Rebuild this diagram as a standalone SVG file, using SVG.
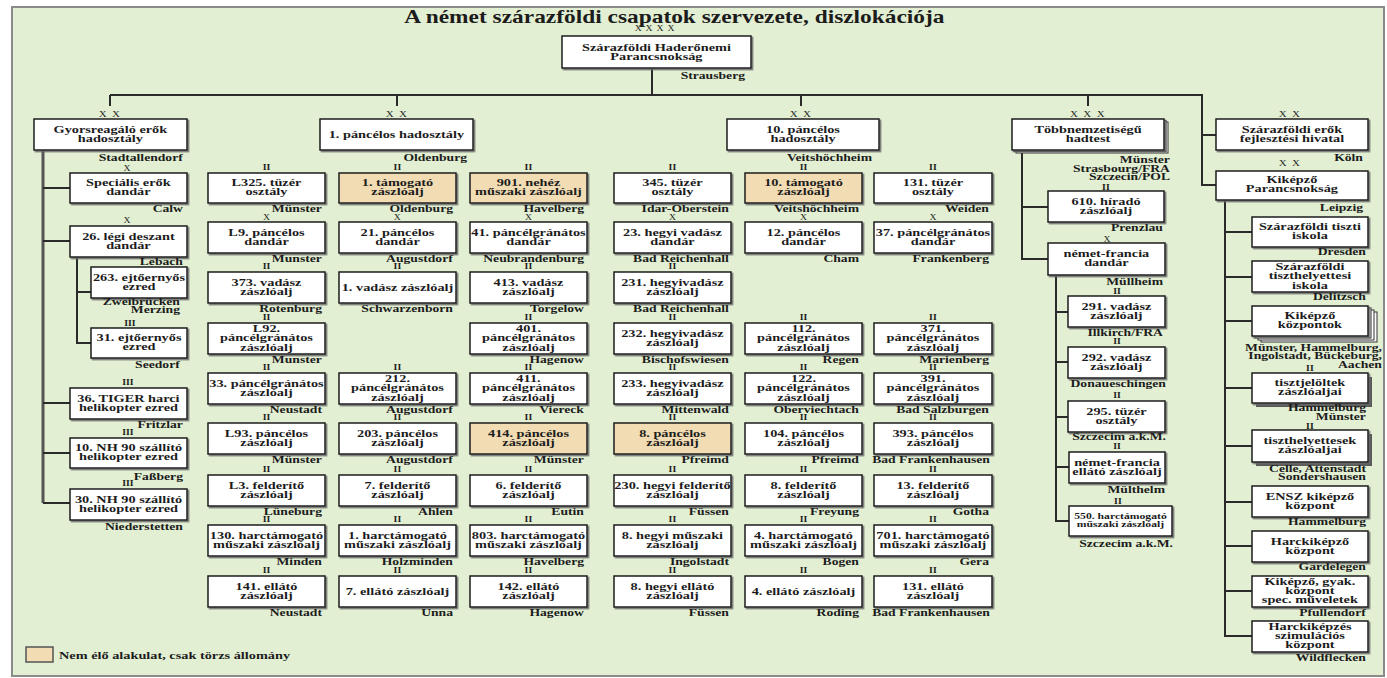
<svg xmlns="http://www.w3.org/2000/svg" width="1387" height="678" viewBox="0 0 1387 678">
<defs>
<filter id="sh" x="-5%" y="-10%" width="115%" height="135%"><feDropShadow dx="1.5" dy="1.5" stdDeviation="0.4" flood-color="#666" flood-opacity="0.9"/></filter>
</defs>
<style>
.t{font-family:"Liberation Serif","Times New Roman",serif;font-weight:700;font-size:11px;fill:#1c1c1c;text-anchor:middle;transform-box:fill-box;transform-origin:50% 50%;transform:scaleX(1.3)}
.r{text-anchor:end;transform-origin:100% 50%;font-size:10.5px}
.s{text-anchor:start;transform-origin:0 50%}
.m{font-size:7.5px}
.x{font-weight:400;font-size:7.5px}
.m2{font-weight:400;font-size:8.5px;letter-spacing:1px}
.ti{font-size:18px}
.sm{font-size:9px}
.bx{fill:#fff;stroke:#1e1e1e;stroke-width:1.5;filter:url(#sh)}
.tan{fill:#f1dcb3}
.bk{fill:#fff;stroke:#333;stroke-width:1}
.hs{fill:#5a5a5a}
.c{stroke:#2a2a2a;stroke-width:2;fill:none}
.cg{stroke:#555;stroke-width:3;fill:none}
</style>
<rect width="1387" height="678" fill="#fff"/>
<rect x="12" y="7" width="1372" height="669" fill="#e2efd3" stroke="#8a8a8a" stroke-width="2"/>
<text class="t ti" x="674.5" y="23">A német szárazföldi csapatok szervezete, diszlokációja</text>

<g id="connectors">
<path class="c" d="M652 68V95M110 95H1202V185H1216M1202 135H1216M110 95V106M397 95V106M801 95V106M1088 95V106"/>
<path class="cg" d="M43 150V503"/>
<path class="c" d="M43 188H70M43 241H70M43 403H70M43 453H70M43 503H70M77 257V343H91M77 292H91"/>
<path class="c" d="M1022 152V259H1048M1022 207H1048M1056 275V521H1069M1056 312H1068M1056 362H1068M1056 417H1068M1056 467H1069"/>
<path class="c" d="M1225 200V636H1252M1225 232H1252M1225 277H1252M1225 321H1252M1225 388H1252M1225 446H1252M1225 502H1252M1225 546H1252M1225 591H1252"/>
</g>

<g id="n-top"><text class="t x" x="656.5" y="31.5" style="letter-spacing:3px">XXXX</text><rect class="bx" x="562" y="36" width="189" height="32"/><text class="t" x="656.5" y="51.5">Szárazföldi Haderőnemi<tspan x="656.5" dy="9">Parancsnokság</tspan></text><text class="t r" x="745" y="79">Strausberg</text></g>

<g id="n-gyors"><text class="t m2" x="110" y="117">X X</text><rect class="bx" x="34" y="119" width="153" height="31"/><text class="t" x="110.5" y="133.5">Gyorsreagáló erők<tspan x="110.5" dy="9">hadosztály</tspan></text><text class="t r" x="183" y="161">Stadtallendorf</text></g>
<g id="n-1pd"><text class="t m2" x="397" y="117">X X</text><rect class="bx" x="320" y="119" width="153" height="31"/><text class="t" x="396.5" y="138.5">1. páncélos hadosztály</text><text class="t r" x="467" y="161">Oldenburg</text></g>
<g id="n-10pd"><text class="t m2" x="801" y="117">X X</text><rect class="bx" x="727" y="119" width="152" height="31"/><text class="t" x="803" y="133.5">10. páncélos<tspan x="803" dy="9">hadosztály</tspan></text><text class="t r" x="872" y="161">Veitshöchheim</text></g>
<g id="n-tobb"><text class="t m2" x="1088" y="117">X X X</text><rect class="bk" x="1016" y="122" width="152" height="31"/><rect class="bk" x="1014" y="120.5" width="152" height="31"/><rect class="bx" x="1012" y="119" width="152" height="31"/><text class="t" x="1088" y="133.5">Többnemzetiségű<tspan x="1088" dy="9">hadtest</tspan></text><text class="t r" x="1170" y="163.5">Münster</text><text class="t r" x="1170" y="172">Strasbourg/FRA</text><text class="t r" x="1170" y="180.5">Szczecin/POL</text></g>
<g id="n-fejl"><text class="t m2" x="1290" y="117">X X</text><rect class="bx" x="1216" y="119" width="152" height="31"/><text class="t" x="1292" y="133.5">Szárazföldi erők<tspan x="1292" dy="9">fejlesztési hivatal</tspan></text><text class="t r" x="1363" y="161">Köln</text></g>
<g id="n-kikp"><text class="t m2" x="1290" y="166">X X</text><rect class="bx" x="1216" y="171" width="152" height="29"/><text class="t" x="1292" y="183.5">Kiképző<tspan x="1292" dy="9">Parancsnokság</tspan></text><text class="t r" x="1363" y="211.5">Leipzig</text></g>

<g id="n-spec"><text class="t x" x="127" y="171.5">X</text><rect class="bx" x="70" y="173" width="117" height="30"/><text class="t" x="128.5" y="186.5">Speciális erők<tspan x="128.5" dy="9">dandár</tspan></text><text class="t r" x="183" y="212.5">Calw</text></g>
<g id="n-26"><text class="t x" x="127" y="223.5">X</text><rect class="bx" x="70" y="226" width="117" height="31"/><text class="t" x="128.5" y="240">26. légi deszant<tspan x="128.5" dy="9">dandár</tspan></text><text class="t r" x="183" y="265.5">Lebach</text></g>
<g id="n-263"><rect class="bx" x="91" y="267" width="96" height="31"/><text class="t" x="139" y="281">263. ejtőernyős<tspan x="139" dy="9">ezred</tspan></text><text class="t r" x="180" y="305">Zweibrücken</text><text class="t r" x="180" y="313.5">Merzing</text></g>
<g id="n-31"><text class="t m" x="130" y="326.5">III</text><rect class="bx" x="91" y="328" width="96" height="30"/><text class="t" x="139" y="341.5">31. ejtőernyős<tspan x="139" dy="9">ezred</tspan></text><text class="t r" x="180" y="368">Seedorf</text></g>
<g id="n-36"><text class="t m" x="128" y="385.5">III</text><rect class="bx" x="70" y="388" width="117" height="31"/><text class="t" x="128.5" y="402">36. TIGER harci<tspan x="128.5" dy="9">helikopter ezred</tspan></text><text class="t r" x="183" y="428.5">Fritzlar</text></g>
<g id="n-10nh"><text class="t m" x="128" y="435.5">III</text><rect class="bx" x="70" y="438" width="117" height="30"/><text class="t" x="128.5" y="451.5">10. NH 90 szállító<tspan x="128.5" dy="9">helikopter ezred</tspan></text><text class="t r" x="183" y="480">Faßberg</text></g>
<g id="n-30nh"><text class="t m" x="128" y="486">III</text><rect class="bx" x="70" y="489" width="117" height="31"/><text class="t" x="128.5" y="503">30. NH 90 szállító<tspan x="128.5" dy="9">helikopter ezred</tspan></text><text class="t r" x="183" y="530">Niederstetten</text></g>

<!-- Row 1 -->
<g id="n-r1a"><text class="t m" x="266.5" y="170.5">II</text><rect class="bx" x="208" y="173" width="117" height="30"/><text class="t" x="266.5" y="186.5">L325. tüzér<tspan x="266.5" dy="9">osztály</tspan></text><text class="t r" x="322" y="212.5">Münster</text></g>
<g id="n-r1b"><text class="t m" x="397.5" y="170.5">II</text><rect class="bx tan" x="339" y="173" width="117" height="30"/><text class="t" x="397.5" y="186.5">1. támogató<tspan x="397.5" dy="9">zászlóalj</tspan></text><text class="t r" x="453" y="212.5">Oldenburg</text></g>
<g id="n-r1c"><text class="t m" x="528.5" y="170.5">II</text><rect class="bx tan" x="470" y="173" width="117" height="30"/><text class="t" x="528.5" y="186.5">901. nehéz<tspan x="528.5" dy="9">műszaki zászlóalj</tspan></text><text class="t r" x="584" y="212.5">Havelberg</text></g>
<g id="n-r1d"><text class="t m" x="672.5" y="170.5">II</text><rect class="bx" x="614" y="173" width="117" height="30"/><text class="t" x="672.5" y="186.5">345. tüzér<tspan x="672.5" dy="9">osztály</tspan></text><text class="t r" x="729" y="212.5">Idar-Oberstein</text></g>
<g id="n-r1e"><text class="t m" x="803.5" y="170.5">II</text><rect class="bx tan" x="745" y="173" width="117" height="30"/><text class="t" x="803.5" y="186.5">10. támogató<tspan x="803.5" dy="9">zászlóalj</tspan></text><text class="t r" x="859" y="212.5">Veitshöchheim</text></g>
<g id="n-r1f"><text class="t m" x="933" y="170.5">II</text><rect class="bx" x="874" y="173" width="118" height="30"/><text class="t" x="933" y="186.5">131. tüzér<tspan x="933" dy="9">osztály</tspan></text><text class="t r" x="989" y="212.5">Weiden</text></g>

<!-- Row 2 -->
<g id="n-r2a"><text class="t x" x="266.5" y="220.5">X</text><rect class="bx" x="208" y="222" width="117" height="31"/><text class="t" x="266.5" y="236">L9. páncélos<tspan x="266.5" dy="9">dandár</tspan></text><text class="t r" x="322" y="262.5">Munster</text></g>
<g id="n-r2b"><text class="t x" x="397.5" y="220.5">X</text><rect class="bx" x="339" y="222" width="117" height="31"/><text class="t" x="397.5" y="236">21. páncélos<tspan x="397.5" dy="9">dandár</tspan></text><text class="t r" x="453" y="262.5">Augustdorf</text></g>
<g id="n-r2c"><text class="t x" x="528.5" y="220.5">X</text><rect class="bx" x="470" y="222" width="117" height="31"/><text class="t" x="528.5" y="236">41. páncélgránátos<tspan x="528.5" dy="9">dandár</tspan></text><text class="t r" x="584" y="262.5">Neubrandenburg</text></g>
<g id="n-r2d"><text class="t x" x="672.5" y="220.5">X</text><rect class="bx" x="614" y="222" width="117" height="31"/><text class="t" x="672.5" y="236">23. hegyi vadász<tspan x="672.5" dy="9">dandár</tspan></text><text class="t r" x="729" y="262.5">Bad Reichenhall</text></g>
<g id="n-r2e"><text class="t x" x="803.5" y="220.5">X</text><rect class="bx" x="745" y="222" width="117" height="31"/><text class="t" x="803.5" y="236">12. páncélos<tspan x="803.5" dy="9">dandár</tspan></text><text class="t r" x="859" y="262.5">Cham</text></g>
<g id="n-r2f"><text class="t x" x="933" y="220.5">X</text><rect class="bx" x="874" y="222" width="118" height="31"/><text class="t" x="933" y="236">37. páncélgránátos<tspan x="933" dy="9">dandár</tspan></text><text class="t r" x="989" y="262.5">Frankenberg</text></g>

<!-- Row 3 -->
<g id="n-r3a"><text class="t m" x="266.5" y="269.5">II</text><rect class="bx" x="208" y="272" width="117" height="31"/><text class="t" x="266.5" y="286">373. vadász<tspan x="266.5" dy="9">zászlóalj</tspan></text><text class="t r" x="322" y="312.5">Rotenburg</text></g>
<g id="n-r3b"><text class="t m" x="397.5" y="269.5">II</text><rect class="bx" x="339" y="272" width="117" height="31"/><text class="t" x="397.5" y="291.5">1. vadász zászlóalj</text><text class="t r" x="453" y="312.5">Schwarzenborn</text></g>
<g id="n-r3c"><text class="t m" x="528.5" y="269.5">II</text><rect class="bx" x="470" y="272" width="117" height="31"/><text class="t" x="528.5" y="286">413. vadász<tspan x="528.5" dy="9">zászlóalj</tspan></text><text class="t r" x="584" y="312.5">Torgelow</text></g>
<g id="n-r3d"><text class="t m" x="672.5" y="269.5">II</text><rect class="bx" x="614" y="272" width="117" height="31"/><text class="t" x="672.5" y="286">231. hegyivadász<tspan x="672.5" dy="9">zászlóalj</tspan></text><text class="t r" x="729" y="312.5">Bad Reichenhall</text></g>

<!-- Row 4 -->
<g id="n-r4a"><text class="t m" x="266.5" y="320.5">II</text><rect class="bx" x="208" y="323" width="117" height="31"/><text class="t" x="266.5" y="332">L92.<tspan x="266.5" dy="9.5">páncélgránátos</tspan><tspan x="266.5" dy="9.5">zászlóalj</tspan></text><text class="t r" x="322" y="363.5">Munster</text></g>
<g id="n-r4c"><text class="t m" x="528.5" y="320.5">II</text><rect class="bx" x="470" y="323" width="117" height="31"/><text class="t" x="528.5" y="332">401.<tspan x="528.5" dy="9.5">páncélgránátos</tspan><tspan x="528.5" dy="9.5">zászlóalj</tspan></text><text class="t r" x="584" y="363.5">Hagenow</text></g>
<g id="n-r4d"><text class="t m" x="672.5" y="320.5">II</text><rect class="bx" x="614" y="323" width="117" height="31"/><text class="t" x="672.5" y="337">232. hegyivadász<tspan x="672.5" dy="9">zászlóalj</tspan></text><text class="t r" x="729" y="363.5">Bischofswiesen</text></g>
<g id="n-r4e"><text class="t m" x="803.5" y="320.5">II</text><rect class="bx" x="745" y="323" width="117" height="31"/><text class="t" x="803.5" y="332">112.<tspan x="803.5" dy="9.5">páncélgránátos</tspan><tspan x="803.5" dy="9.5">zászlóalj</tspan></text><text class="t r" x="859" y="363.5">Regen</text></g>
<g id="n-r4f"><text class="t m" x="933" y="320.5">II</text><rect class="bx" x="874" y="323" width="118" height="31"/><text class="t" x="933" y="332">371.<tspan x="933" dy="9.5">páncélgránátos</tspan><tspan x="933" dy="9.5">zászlóalj</tspan></text><text class="t r" x="989" y="363.5">Marienberg</text></g>

<!-- Row 5 -->
<g id="n-r5a"><text class="t m" x="266.5" y="370.5">II</text><rect class="bx" x="208" y="373" width="117" height="31"/><text class="t" x="266.5" y="387">33. páncélgránátos<tspan x="266.5" dy="9">zászlóalj</tspan></text><text class="t r" x="322" y="413.5">Neustadt</text></g>
<g id="n-r5b"><text class="t m" x="397.5" y="370.5">II</text><rect class="bx" x="339" y="373" width="117" height="31"/><text class="t" x="397.5" y="382">212.<tspan x="397.5" dy="9.5">páncélgránátos</tspan><tspan x="397.5" dy="9.5">zászlóalj</tspan></text><text class="t r" x="453" y="413.5">Augustdorf</text></g>
<g id="n-r5c"><text class="t m" x="528.5" y="370.5">II</text><rect class="bx" x="470" y="373" width="117" height="31"/><text class="t" x="528.5" y="382">411.<tspan x="528.5" dy="9.5">páncélgránátos</tspan><tspan x="528.5" dy="9.5">zászlóalj</tspan></text><text class="t r" x="584" y="413.5">Viereck</text></g>
<g id="n-r5d"><text class="t m" x="672.5" y="370.5">II</text><rect class="bx" x="614" y="373" width="117" height="31"/><text class="t" x="672.5" y="387">233. hegyivadász<tspan x="672.5" dy="9">zászlóalj</tspan></text><text class="t r" x="729" y="413.5">Mittenwald</text></g>
<g id="n-r5e"><text class="t m" x="803.5" y="370.5">II</text><rect class="bx" x="745" y="373" width="117" height="31"/><text class="t" x="803.5" y="382">122.<tspan x="803.5" dy="9.5">páncélgránátos</tspan><tspan x="803.5" dy="9.5">zászlóalj</tspan></text><text class="t r" x="859" y="413.5">Oberviechtach</text></g>
<g id="n-r5f"><text class="t m" x="933" y="370.5">II</text><rect class="bx" x="874" y="373" width="118" height="31"/><text class="t" x="933" y="382">391.<tspan x="933" dy="9.5">páncélgránátos</tspan><tspan x="933" dy="9.5">zászlóalj</tspan></text><text class="t r" x="989" y="413.5">Bad Salzburgen</text></g>

<!-- Row 6 -->
<g id="n-r6a"><text class="t m" x="266.5" y="420.5">II</text><rect class="bx" x="208" y="423" width="117" height="31"/><text class="t" x="266.5" y="437">L93. páncélos<tspan x="266.5" dy="9">zászlóalj</tspan></text><text class="t r" x="322" y="463.5">Münster</text></g>
<g id="n-r6b"><text class="t m" x="397.5" y="420.5">II</text><rect class="bx" x="339" y="423" width="117" height="31"/><text class="t" x="397.5" y="437">203. páncélos<tspan x="397.5" dy="9">zászlóalj</tspan></text><text class="t r" x="453" y="463.5">Augustdorf</text></g>
<g id="n-r6c"><text class="t m" x="528.5" y="420.5">II</text><rect class="bx tan" x="470" y="423" width="117" height="31"/><text class="t" x="528.5" y="437">414. páncélos<tspan x="528.5" dy="9">zászlóalj</tspan></text><text class="t r" x="584" y="463.5">Münster</text></g>
<g id="n-r6d"><text class="t m" x="672.5" y="420.5">II</text><rect class="bx tan" x="614" y="423" width="117" height="31"/><text class="t" x="672.5" y="437">8. páncélos<tspan x="672.5" dy="9">zászlóalj</tspan></text><text class="t r" x="729" y="463.5">Pfreimd</text></g>
<g id="n-r6e"><text class="t m" x="803.5" y="420.5">II</text><rect class="bx" x="745" y="423" width="117" height="31"/><text class="t" x="803.5" y="437">104. páncélos<tspan x="803.5" dy="9">zászlóalj</tspan></text><text class="t r" x="859" y="463.5">Pfreimd</text></g>
<g id="n-r6f"><text class="t m" x="933" y="420.5">II</text><rect class="bx" x="874" y="423" width="118" height="31"/><text class="t" x="933" y="437">393. páncélos<tspan x="933" dy="9">zászlóalj</tspan></text><text class="t r" x="990" y="463.5">Bad Frankenhausen</text></g>

<!-- Row 7 -->
<g id="n-r7a"><text class="t m" x="266.5" y="472.5">II</text><rect class="bx" x="208" y="475" width="117" height="31"/><text class="t" x="266.5" y="489">L3. felderítő<tspan x="266.5" dy="9">zászlóalj</tspan></text><text class="t r" x="322" y="515.5">Lüneburg</text></g>
<g id="n-r7b"><text class="t m" x="397.5" y="472.5">II</text><rect class="bx" x="339" y="475" width="117" height="31"/><text class="t" x="397.5" y="489">7. felderítő<tspan x="397.5" dy="9">zászlóalj</tspan></text><text class="t r" x="453" y="515.5">Ahlen</text></g>
<g id="n-r7c"><text class="t m" x="528.5" y="472.5">II</text><rect class="bx" x="470" y="475" width="117" height="31"/><text class="t" x="528.5" y="489">6. felderítő<tspan x="528.5" dy="9">zászlóalj</tspan></text><text class="t r" x="584" y="515.5">Eutin</text></g>
<g id="n-r7d"><text class="t m" x="672.5" y="472.5">II</text><rect class="bx" x="614" y="475" width="117" height="31"/><text class="t" x="672.5" y="489">230. hegyi felderítő<tspan x="672.5" dy="9">zászlóalj</tspan></text><text class="t r" x="729" y="515.5">Füssen</text></g>
<g id="n-r7e"><text class="t m" x="803.5" y="472.5">II</text><rect class="bx" x="745" y="475" width="117" height="31"/><text class="t" x="803.5" y="489">8. felderítő<tspan x="803.5" dy="9">zászlóalj</tspan></text><text class="t r" x="859" y="515.5">Freyung</text></g>
<g id="n-r7f"><text class="t m" x="933" y="472.5">II</text><rect class="bx" x="874" y="475" width="118" height="31"/><text class="t" x="933" y="489">13. felderítő<tspan x="933" dy="9">zászlóalj</tspan></text><text class="t r" x="989" y="515.5">Gotha</text></g>

<!-- Row 8 -->
<g id="n-r8a"><text class="t m" x="266.5" y="522.5">II</text><rect class="bx" x="208" y="525" width="117" height="31"/><text class="t" x="266.5" y="539">130. harctámogató<tspan x="266.5" dy="9">műszaki zászlóalj</tspan></text><text class="t r" x="322" y="565.5">Minden</text></g>
<g id="n-r8b"><text class="t m" x="397.5" y="522.5">II</text><rect class="bx" x="339" y="525" width="117" height="31"/><text class="t" x="397.5" y="539">1. harctámogató<tspan x="397.5" dy="9">műszaki zászlóalj</tspan></text><text class="t r" x="453" y="565.5">Holzminden</text></g>
<g id="n-r8c"><text class="t m" x="528.5" y="522.5">II</text><rect class="bx" x="470" y="525" width="117" height="31"/><text class="t" x="528.5" y="539">803. harctámogató<tspan x="528.5" dy="9">műszaki zászlóalj</tspan></text><text class="t r" x="584" y="565.5">Havelberg</text></g>
<g id="n-r8d"><text class="t m" x="672.5" y="522.5">II</text><rect class="bx" x="614" y="525" width="117" height="31"/><text class="t" x="672.5" y="539">8. hegyi műszaki<tspan x="672.5" dy="9">zászlóalj</tspan></text><text class="t r" x="729" y="565.5">Ingolstadt</text></g>
<g id="n-r8e"><text class="t m" x="803.5" y="522.5">II</text><rect class="bx" x="745" y="525" width="117" height="31"/><text class="t" x="803.5" y="539">4. harctámogató<tspan x="803.5" dy="9">műszaki zászlóalj</tspan></text><text class="t r" x="859" y="565.5">Bogen</text></g>
<g id="n-r8f"><text class="t m" x="933" y="522.5">II</text><rect class="bx" x="874" y="525" width="118" height="31"/><text class="t" x="933" y="539">701. harctámogató<tspan x="933" dy="9">műszaki zászlóalj</tspan></text><text class="t r" x="989" y="565.5">Gera</text></g>

<!-- Row 9 -->
<g id="n-r9a"><text class="t m" x="266.5" y="573.5">II</text><rect class="bx" x="208" y="576" width="117" height="31"/><text class="t" x="266.5" y="590">141. ellátó<tspan x="266.5" dy="9">zászlóalj</tspan></text><text class="t r" x="322" y="616.5">Neustadt</text></g>
<g id="n-r9b"><text class="t m" x="397.5" y="573.5">II</text><rect class="bx" x="339" y="576" width="117" height="31"/><text class="t" x="397.5" y="595.5">7. ellátó zászlóalj</text><text class="t r" x="453" y="616.5">Unna</text></g>
<g id="n-r9c"><text class="t m" x="528.5" y="573.5">II</text><rect class="bx" x="470" y="576" width="117" height="31"/><text class="t" x="528.5" y="590">142. ellátó<tspan x="528.5" dy="9">zászlóalj</tspan></text><text class="t r" x="584" y="616.5">Hagenow</text></g>
<g id="n-r9d"><text class="t m" x="672.5" y="573.5">II</text><rect class="bx" x="614" y="576" width="117" height="31"/><text class="t" x="672.5" y="590">8. hegyi ellátó<tspan x="672.5" dy="9">zászlóalj</tspan></text><text class="t r" x="729" y="616.5">Füssen</text></g>
<g id="n-r9e"><text class="t m" x="803.5" y="573.5">II</text><rect class="bx" x="745" y="576" width="117" height="31"/><text class="t" x="803.5" y="595.5">4. ellátó zászlóalj</text><text class="t r" x="859" y="616.5">Roding</text></g>
<g id="n-r9f"><text class="t m" x="933" y="573.5">II</text><rect class="bx" x="874" y="576" width="118" height="31"/><text class="t" x="933" y="590">131. ellátó<tspan x="933" dy="9">zászlóalj</tspan></text><text class="t r" x="990" y="616.5">Bad Frankenhausen</text></g>

<!-- Többnemzetiségű subunits -->
<g id="n-610"><text class="t m" x="1106" y="190">II</text><rect class="bx" x="1048" y="191" width="116" height="31"/><text class="t" x="1106" y="205">610. híradó<tspan x="1106" dy="9">zászlóalj</tspan></text><text class="t r" x="1163" y="231">Prenzlau</text></g>
<g id="n-nfd"><text class="t x" x="1107" y="242.5">X</text><rect class="bx" x="1048" y="243" width="117" height="32"/><text class="t" x="1106.5" y="257.5">német-francia<tspan x="1106.5" dy="9">dandár</tspan></text><text class="t r" x="1163" y="285.5">Müllheim</text></g>
<g id="n-291"><text class="t m" x="1117" y="294.5">II</text><rect class="bx" x="1068" y="296" width="97" height="31"/><text class="t" x="1116.5" y="310">291. vadász<tspan x="1116.5" dy="9">zászlóalj</tspan></text><text class="t r" x="1163" y="336.5">Illkirch/FRA</text></g>
<g id="n-292"><text class="t m" x="1117" y="344.5">II</text><rect class="bx" x="1068" y="347" width="97" height="31"/><text class="t" x="1116.5" y="361">292. vadász<tspan x="1116.5" dy="9">zászlóalj</tspan></text><text class="t r" x="1166" y="387.5">Donaueschingen</text></g>
<g id="n-295"><text class="t m" x="1117" y="398.5">II</text><rect class="bx" x="1068" y="401" width="97" height="31"/><text class="t" x="1116.5" y="415">295. tüzér<tspan x="1116.5" dy="9">osztály</tspan></text><text class="t r" x="1166" y="440.5">Szczecim a.k.M.</text></g>
<g id="n-nfe"><text class="t m" x="1117" y="449">II</text><rect class="bx" x="1069" y="452" width="96" height="31"/><text class="t" x="1117" y="466">német-francia<tspan x="1117" dy="9">ellátó zászlóalj</tspan></text><text class="t r" x="1165" y="493.5">Mülthelm</text></g>
<g id="n-550"><text class="t m" x="1118" y="504.5">II</text><rect class="bx" x="1069" y="506" width="103" height="30"/><text class="t sm" x="1120.5" y="519">550. harctámogató<tspan x="1120.5" dy="8.5">műszaki zászlóalj</tspan></text><text class="t r" x="1173" y="547.5">Szczecim a.k.M.</text></g>

<!-- Kiképző subunits -->
<g id="n-tiszti"><rect class="bx" x="1252" y="217" width="116" height="30"/><text class="t" x="1310" y="230.5">Szárazföldi tiszti<tspan x="1310" dy="9">iskola</tspan></text><text class="t r" x="1366" y="255">Dresden</text></g>
<g id="n-tiszth"><rect class="bx" x="1252" y="261" width="116" height="31"/><text class="t" x="1310" y="270">Szárazföldi<tspan x="1310" dy="9.5">tiszthelyettesi</tspan><tspan x="1310" dy="9.5">iskola</tspan></text><text class="t r" x="1366" y="300.5">Delitzsch</text></g>
<g id="n-kkozp"><rect class="bk" x="1261" y="312" width="116" height="30"/><rect class="bk" x="1258" y="310" width="116" height="30"/><rect class="bk" x="1255" y="308" width="116" height="30"/><rect class="bx" x="1252" y="306" width="116" height="30"/><text class="t" x="1310" y="319.5">Kiképző<tspan x="1310" dy="9">központok</tspan></text><text class="t r" x="1382" y="351">Münster, Hammelburg,</text><text class="t r" x="1382" y="359.5">Ingolstadt, Bückeburg,</text><text class="t r" x="1382" y="368">Aachen</text></g>
<g id="n-tjel"><text class="t m" x="1310" y="371.5">II</text><rect class="hs" x="1256" y="377" width="116" height="30"/><rect class="bx" x="1252" y="373" width="116" height="30"/><text class="t" x="1310" y="386.5">tisztjelöltek<tspan x="1310" dy="9">zászlóaljai</tspan></text><text class="t r" x="1366" y="411.5">Hammelburg</text><text class="t r" x="1366" y="420">Münster</text></g>
<g id="n-thely"><text class="t m" x="1310" y="429.5">II</text><rect class="hs" x="1256" y="434" width="116" height="32"/><rect class="bx" x="1252" y="430" width="116" height="32"/><text class="t" x="1310" y="444.5">tiszthelyettesek<tspan x="1310" dy="9">zászlóaljai</tspan></text><text class="t r" x="1366" y="472">Celle, Attenstadt</text><text class="t r" x="1366" y="480.5">Sondershausen</text></g>
<g id="n-ensz"><rect class="bx" x="1252" y="486" width="116" height="31"/><text class="t" x="1310" y="500">ENSZ kiképző<tspan x="1310" dy="9">központ</tspan></text><text class="t r" x="1366" y="525">Hammelburg</text></g>
<g id="n-harck"><rect class="bx" x="1252" y="531" width="116" height="31"/><text class="t" x="1310" y="545">Harckiképző<tspan x="1310" dy="9">központ</tspan></text><text class="t r" x="1366" y="570">Gardelegen</text></g>
<g id="n-spec2"><rect class="bx" x="1252" y="576" width="116" height="31"/><text class="t" x="1310" y="585">Kiképző, gyak.<tspan x="1310" dy="9">központ</tspan><tspan x="1310" dy="9">spec. műveletek</tspan></text><text class="t r" x="1366" y="616">Pfullendorf</text></g>
<g id="n-szim"><rect class="bx" x="1252" y="621" width="116" height="31"/><text class="t" x="1310" y="630">Harckiképzés<tspan x="1310" dy="9">szimulációs</tspan><tspan x="1310" dy="9">központ</tspan></text><text class="t r" x="1366" y="661">Wildflecken</text></g>

<g id="legend"><rect x="26" y="647" width="27" height="15" fill="#f1dcb3" stroke="#555" stroke-width="1.5"/><text class="t s" x="59" y="659">Nem élő alakulat, csak törzs állomány</text></g>
</svg>
